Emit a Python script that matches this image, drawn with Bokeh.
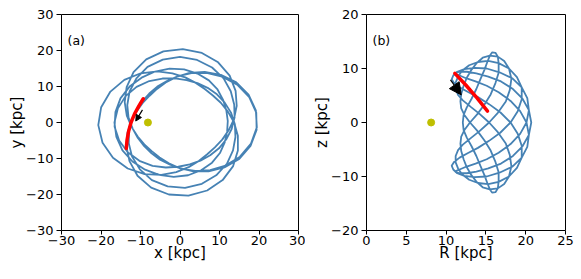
import numpy as np
from bokeh.plotting import figure
from bokeh.layouts import row
from bokeh.models import Range1d, Label, Arrow, NormalHead, CustomJSTickFormatter, FixedTicker
from bokeh.embed import file_html
from bokeh.resources import INLINE

# ---- orbit (cylindrical radius, azimuth, height) ----
orbit_phi_deg = [
    42, 56, 70, 84, 98, 112, 126, 140, 154, 168, 182,
    196, 210, 224, 238, 252, 266, 280, 294, 308, 322,
    336, 350, 364, 378, 392, 406, 420, 434, 448, 462,
    476, 490, 504, 518, 532, 546, 560, 574, 588, 602,
    616, 630, 644, 658, 672, 686, 700, 714, 728, 742,
    756, 770, 784, 798, 812, 826, 840, 854, 868, 882,
    896, 910, 924, 938, 952, 966, 980, 994, 1008, 1022,
    1036, 1050, 1064, 1078, 1092, 1106, 1120, 1134, 1148, 1162,
    1176, 1190, 1204, 1218, 1232, 1246, 1260, 1274, 1288, 1302,
    1316, 1330, 1344, 1358, 1372, 1386, 1400, 1414, 1428, 1442,
    1456, 1470, 1484, 1498, 1512, 1526, 1540, 1554, 1568, 1582,
    1596, 1610, 1624, 1638, 1652, 1666, 1680, 1694, 1708, 1722,
    1736, 1750, 1764, 1778, 1792, 1806, 1820, 1834, 1848, 1862,
    1876, 1890, 1904, 1918, 1932, 1946, 1960, 1974, 1988, 2002,
    2016, 2030, 2044, 2058, 2072, 2086, 2100, 2114, 2128, 2142,
    2156, 2170, 2184, 2198, 2212, 2226, 2240, 2254, 2268, 2282,
    2296, 2310, 2324, 2338, 2352, 2366, 2380, 2394, 2408, 2422,
    2436, 2450, 2464, 2478, 2492, 2506, 2520, 2534, 2548, 2562,
]
orbit_R_kpc = [
    11.2, 11.2, 11.7, 12.6, 13.8, 15.3, 16.9, 18.4, 19.6, 20.4, 20.7,
    20.4, 19.6, 18.4, 16.9, 15.3, 13.8, 12.6, 11.7, 11.2, 11.2,
    11.7, 12.5, 13.7, 15.1, 16.6, 18.1, 19.3, 20.1, 20.4, 20.2,
    19.5, 18.3, 16.7, 15.1, 13.6, 12.3, 11.4, 10.9, 10.7, 11.0,
    11.7, 12.7, 14.0, 15.4, 16.8, 18.1, 19.0, 19.5, 19.5, 18.9,
    17.9, 16.6, 15.3, 14.0, 12.9, 12.0, 11.5, 11.2, 11.2, 11.5,
    12.1, 13.1, 14.2, 15.4, 16.5, 17.5, 18.0, 18.2, 17.9, 17.3,
    16.5, 15.5, 14.6, 13.9, 13.2, 12.6, 12.2, 11.9, 11.8, 11.9,
    12.3, 13.0, 13.9, 14.8, 15.6, 16.2, 16.6, 16.6, 16.5, 16.2,
    15.8, 15.5, 15.2, 14.8, 14.3, 13.8, 13.2, 12.6, 12.2, 12.1,
    12.2, 12.6, 13.2, 13.8, 14.3, 14.8, 15.2, 15.5, 15.8, 16.2,
    16.5, 16.6, 16.6, 16.2, 15.6, 14.8, 13.9, 13.0, 12.3, 11.9,
    11.8, 11.9, 12.2, 12.6, 13.2, 13.9, 14.6, 15.5, 16.5, 17.3,
    17.9, 18.2, 18.0, 17.5, 16.5, 15.4, 14.2, 13.1, 12.1, 11.5,
    11.2, 11.2, 11.5, 12.0, 12.9, 14.0, 15.3, 16.6, 17.9, 18.9,
    19.5, 19.5, 19.0, 18.1, 16.8, 15.4, 14.0, 12.7, 11.7, 11.0,
    10.7, 10.9, 11.4, 12.3, 13.6, 15.1, 16.7, 18.3, 19.5, 20.2,
    20.4, 20.1, 19.3, 18.1, 16.6, 15.1, 13.7, 12.5, 11.7, 11.2,
]
orbit_z_kpc = [
    -9.0, -9.2, -9.4, -9.4, -9.1, -8.5, -7.6, -6.2, -4.4, -2.3, 0.0,
    2.3, 4.4, 6.2, 7.6, 8.5, 9.1, 9.4, 9.4, 9.2, 9.0,
    8.7, 8.2, 7.6, 6.8, 5.6, 4.0, 2.1, 0.0, -2.3, -4.5,
    -6.5, -8.2, -9.3, -10.0, -10.1, -9.9, -9.4, -8.7, -8.0, -7.3,
    -6.5, -5.7, -4.7, -3.4, -1.9, 0.0, 2.1, 4.3, 6.5, 8.4,
    10.0, 11.0, 11.4, 11.2, 10.6, 9.6, 8.5, 7.4, 6.2, 5.1,
    4.1, 2.9, 1.6, 0.0, -1.8, -3.9, -6.0, -8.1, -10.0, -11.4,
    -12.2, -12.4, -12.0, -11.1, -9.8, -8.3, -6.8, -5.3, -3.9, -2.6,
    -1.4, 0.0, 1.5, 3.3, 5.2, 7.3, 9.2, 10.9, 12.2, 12.9,
    13.0, 12.4, 11.3, 9.7, 8.0, 6.2, 4.4, 2.8, 1.4, 0.0,
    -1.4, -2.8, -4.4, -6.2, -8.0, -9.7, -11.3, -12.4, -13.0, -12.9,
    -12.2, -10.9, -9.2, -7.3, -5.2, -3.3, -1.5, 0.0, 1.4, 2.6,
    3.9, 5.3, 6.8, 8.3, 9.8, 11.1, 12.0, 12.4, 12.2, 11.4,
    10.0, 8.1, 6.0, 3.9, 1.8, 0.0, -1.6, -2.9, -4.1, -5.1,
    -6.2, -7.4, -8.5, -9.6, -10.6, -11.2, -11.4, -11.0, -10.0, -8.4,
    -6.5, -4.3, -2.1, 0.0, 1.9, 3.4, 4.7, 5.7, 6.5, 7.3,
    8.0, 8.7, 9.4, 9.9, 10.1, 10.0, 9.3, 8.2, 6.5, 4.5,
    2.3, 0.0, -2.1, -4.0, -5.6, -6.8, -7.6, -8.2, -8.7, -9.0,
]

# red (current) segment
red_x_kpc = [-9.3, -10.4, -11.5, -12.4, -13.0, -13.4, -13.6]
red_y_kpc = [6.6, 4.6, 2.4, 0.0, -2.4, -4.8, -7.2]
red_R_kpc = [11.1, 12.5, 13.9, 15.2]
red_z_kpc = [9.1, 6.9, 4.5, 2.1]

# Sun
sun_R_kpc = 8.12

# direction arrows (start, end) in data units
arrow_a = [(-9.5, 3.5), (-11.2, 0.4)]
arrow_b = [(10.55, 7.9), (11.9, 5.1)]

# axes
ticks_a = [-30, -20, -10, 0, 10, 20, 30]
ticks_b_x = [0, 5, 10, 15, 20, 25]
ticks_b_y = [-20, -10, 0, 10, 20]

BLUE = "#4682b4"
FONT = "DejaVu Sans"

phi = np.radians(np.array(orbit_phi_deg, dtype=float))
R = np.array(orbit_R_kpc, dtype=float)
orbit_x = R * np.cos(phi)
orbit_y = R * np.sin(phi)

minus_fmt = "return tick < 0 ? '\\u2212' + Math.abs(tick) : String(tick);"


def make_fig(xr, yr, xt, yt, w, left, right, xlabel, ylabel):
    p = figure(width=w, height=278, x_range=Range1d(*xr), y_range=Range1d(*yr),
               output_backend="svg", toolbar_location=None,
               min_border_left=left, min_border_right=right,
               min_border_top=14, min_border_bottom=48)
    p.grid.visible = False
    p.outline_line_color = "black"
    p.outline_line_width = 1
    p.outline_line_alpha = 1
    p.background_fill_color = "white"
    p.border_fill_color = "white"
    for ax, ticks, lab in ((p.xaxis[0], xt, xlabel), (p.yaxis[0], yt, ylabel)):
        ax.ticker = FixedTicker(ticks=ticks)
        ax.formatter = CustomJSTickFormatter(code=minus_fmt)
        ax.major_tick_in = 0
        ax.major_tick_line_color = "black"
        ax.minor_tick_line_color = None
        ax.axis_line_color = None
        ax.major_label_text_font = FONT
        ax.major_label_text_font_size = "13px"
        ax.major_label_text_color = "black"
        ax.axis_label = lab
        ax.axis_label_text_font = FONT
        ax.axis_label_text_font_size = "15px"
        ax.axis_label_text_font_style = "normal"
        ax.axis_label_text_color = "black"
    xa, ya = p.xaxis[0], p.yaxis[0]
    xa.major_tick_out = 4
    xa.major_label_standoff = 1
    xa.axis_label_standoff = -4
    ya.major_tick_out = 5
    ya.major_label_standoff = 3
    ya.axis_label_standoff = -3
    return p


def add_panel_label(p, text):
    p.add_layout(Label(x=6, y=190, x_units="screen", y_units="screen", text=text,
                       text_font=FONT, text_font_size="12.5px", text_color="black",
                       text_baseline="alphabetic"))


# ---- panel (a) ----
pa = make_fig((-30, 30), (-30, 30), ticks_a, ticks_a, 305, 61, 7, "x [kpc]", "y [kpc]")
pa.line(orbit_x, orbit_y, line_color=BLUE, line_width=1.8)
pa.line(red_x_kpc, red_y_kpc, line_color="red", line_width=3.5, line_cap="round")
pa.add_layout(Arrow(end=NormalHead(size=6, fill_color="black", line_color="black"),
                    x_start=arrow_a[0][0], y_start=arrow_a[0][1],
                    x_end=arrow_a[1][0], y_end=arrow_a[1][1],
                    line_color="black", line_width=1.2))
pa.scatter([-sun_R_kpc], [0], size=7, fill_color="#bfbf00", line_color="#bfbf00")
add_panel_label(pa, "(a)")

# ---- panel (b) ----
pb = make_fig((0, 25), (-20, 20), ticks_b_x, ticks_b_y, 275, 61, 15, "R [kpc]", "z [kpc]")
pb.line(orbit_R_kpc, orbit_z_kpc, line_color=BLUE, line_width=1.8)
pb.line(red_R_kpc, red_z_kpc, line_color="red", line_width=3.5, line_cap="round")
pb.add_layout(Arrow(end=NormalHead(size=12, fill_color="black", line_color="black"),
                    x_start=arrow_b[0][0], y_start=arrow_b[0][1],
                    x_end=arrow_b[1][0], y_end=arrow_b[1][1],
                    line_color="black", line_width=1.2))
pb.scatter([sun_R_kpc], [0], size=7, fill_color="#bfbf00", line_color="#bfbf00")
add_panel_label(pb, "(b)")

layout = row(pa, pb)
open("out.html", "w").write(file_html(layout, INLINE))
